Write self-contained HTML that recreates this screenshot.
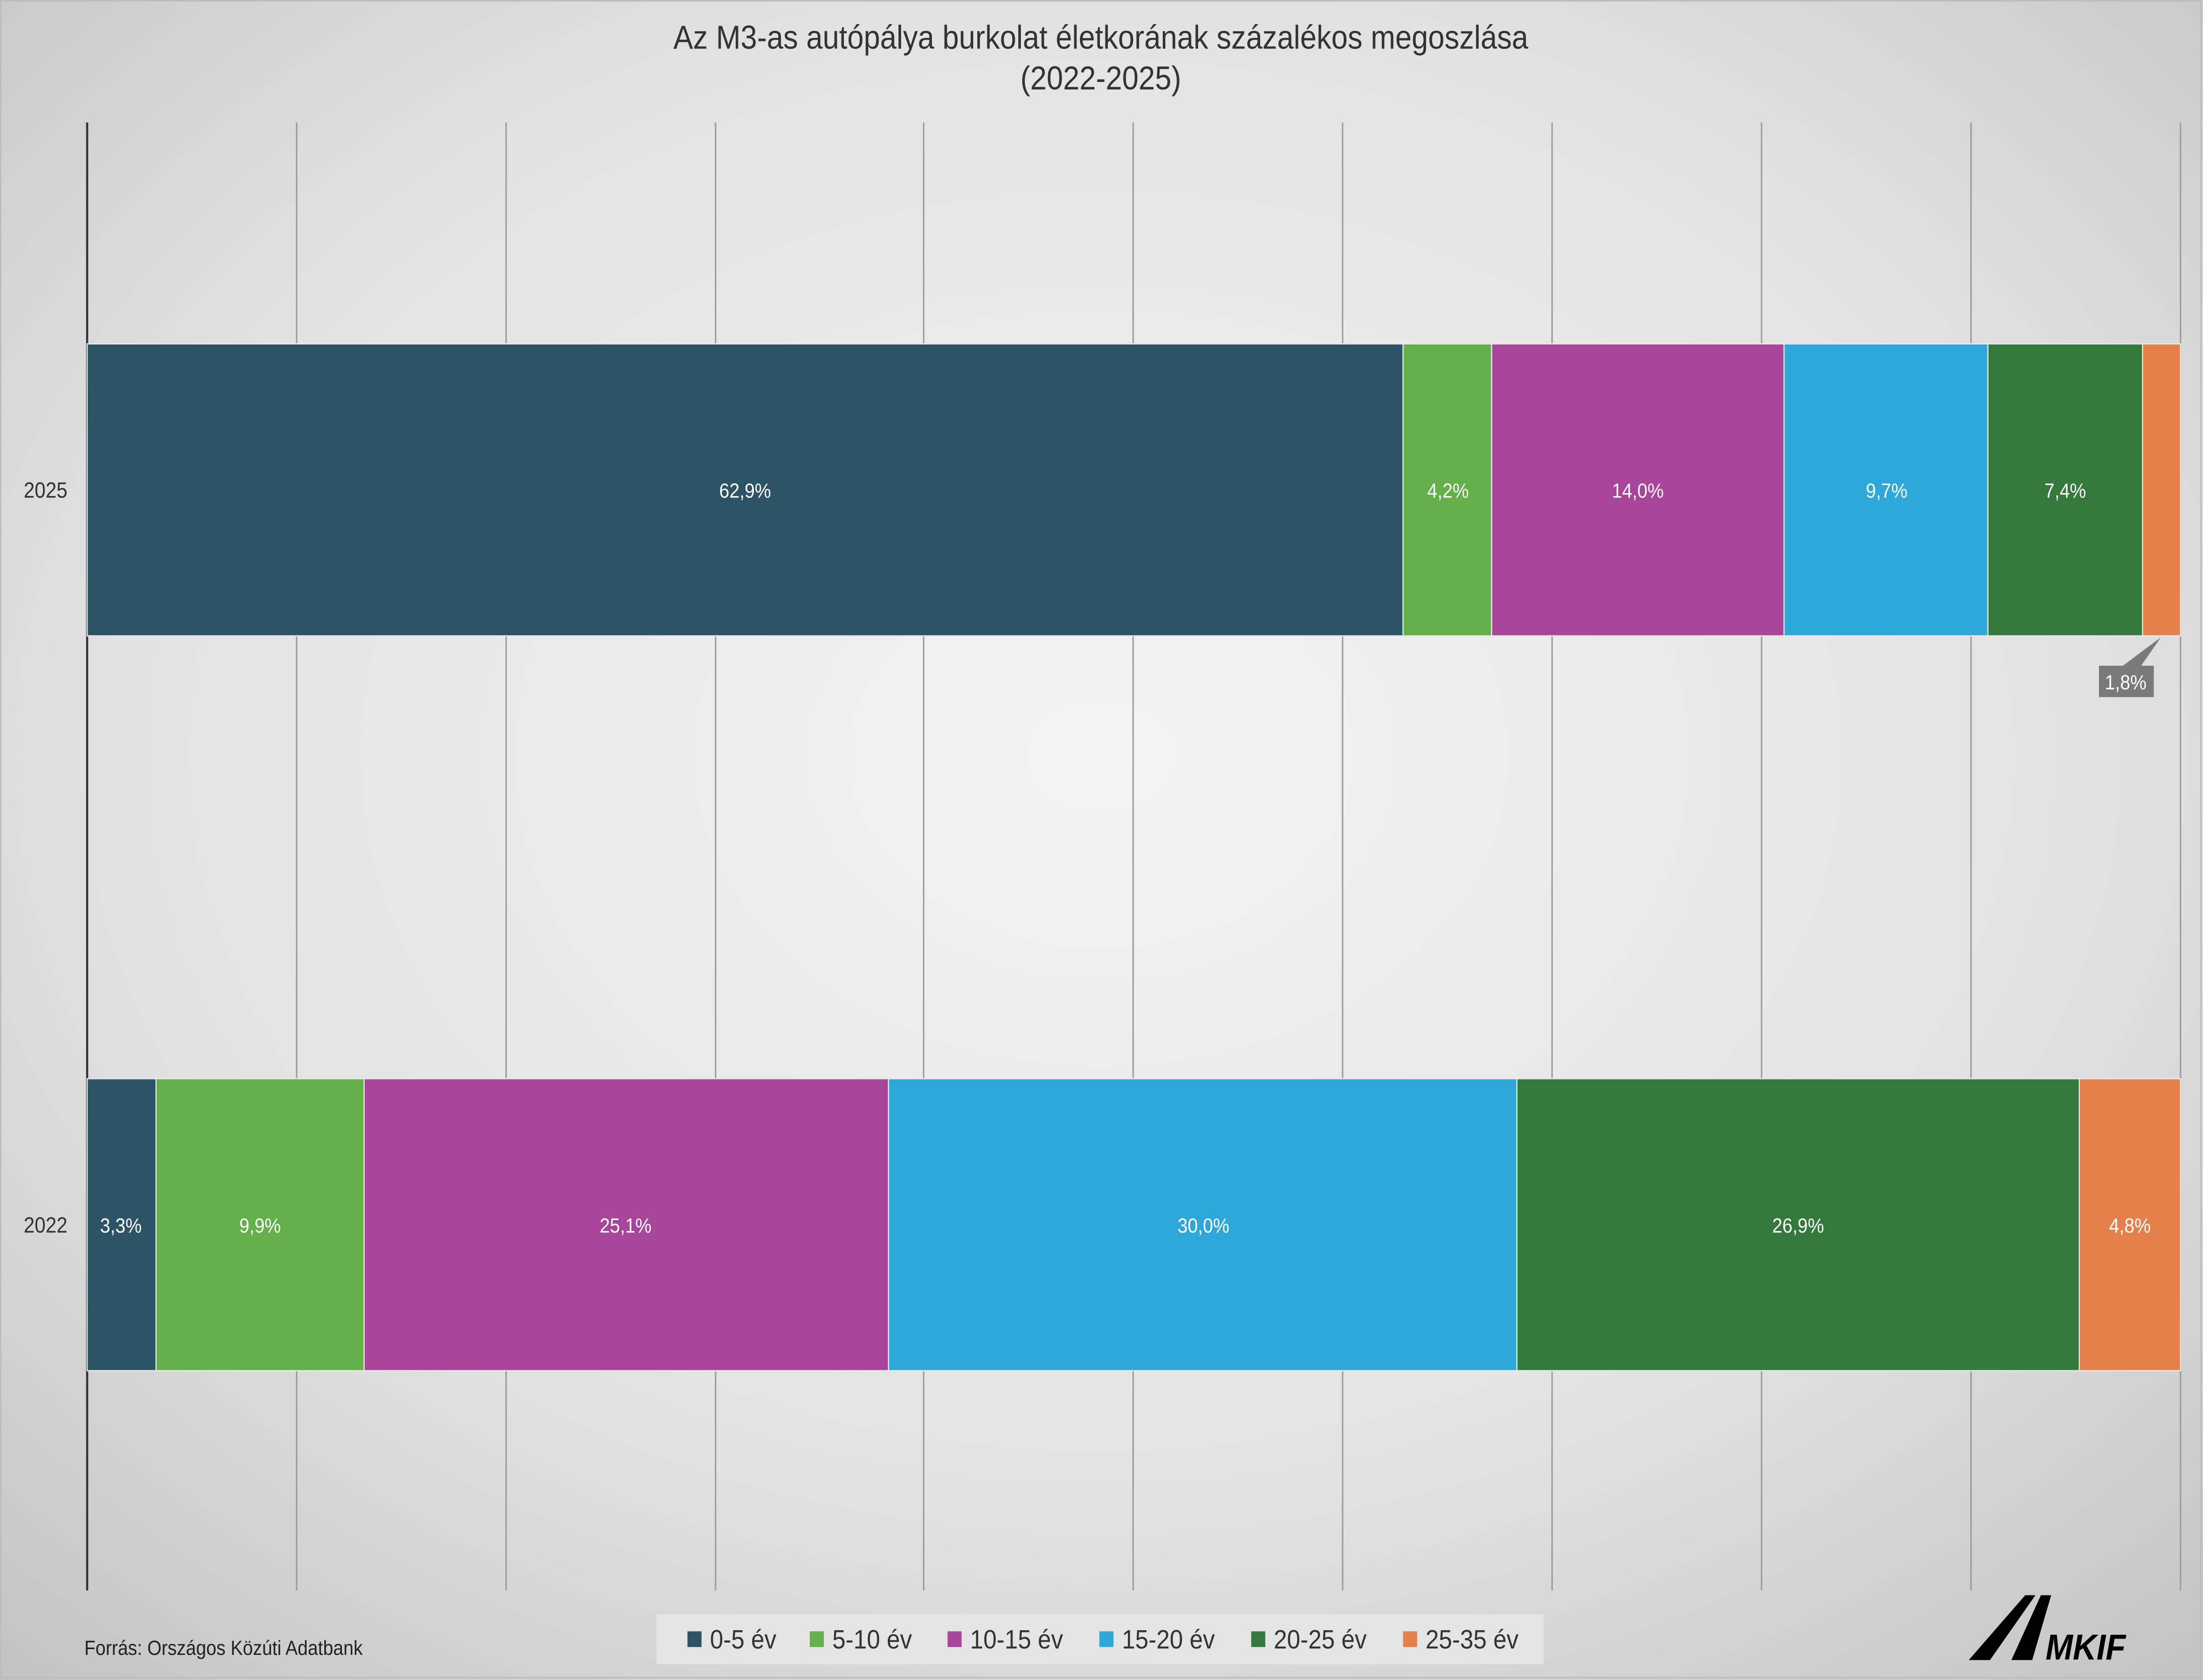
<!DOCTYPE html>
<html><head><meta charset="utf-8"><style>html,body{margin:0;padding:0;width:100vw;height:100vh;overflow:hidden}svg{display:block;width:100vw;height:100vh}</style></head>
<body>
<svg viewBox="0 0 1567 1070" preserveAspectRatio="none" xmlns="http://www.w3.org/2000/svg" font-family="Liberation Sans, sans-serif">
<defs>
<radialGradient id="bg" cx="0.5" cy="0.45" r="0.75">
<stop offset="0" stop-color="#f4f4f4"/><stop offset="0.6" stop-color="#e2e2e2"/><stop offset="1" stop-color="#c2c2c2"/>
</radialGradient>
</defs>
<rect width="1567" height="1070" fill="url(#bg)"/>
<rect x="0.5" y="0.5" width="1565" height="1068" fill="none" stroke="#bdbdbd"/>
<text x="783" y="31" text-anchor="middle" font-size="21" fill="#333">Az M3-as autópálya burkolat életkorának százalékos megoszlása</text>
<text x="783" y="57" text-anchor="middle" font-size="21" fill="#333">(2022-2025)</text>
<g stroke="#9a9a9a" stroke-width="1">
<line x1="211" y1="78" x2="211" y2="1013"/><line x1="360" y1="78" x2="360" y2="1013"/>
<line x1="509" y1="78" x2="509" y2="1013"/><line x1="657" y1="78" x2="657" y2="1013"/>
<line x1="806" y1="78" x2="806" y2="1013"/><line x1="955" y1="78" x2="955" y2="1013"/>
<line x1="1104" y1="78" x2="1104" y2="1013"/><line x1="1253" y1="78" x2="1253" y2="1013"/>
<line x1="1402" y1="78" x2="1402" y2="1013"/><line x1="1551" y1="78" x2="1551" y2="1013"/>
</g>
<line x1="62" y1="78" x2="62" y2="1013" stroke="#333" stroke-width="1.5"/>
<g stroke="#e8e8e8" stroke-width="0.8">
<rect x="62" y="219" width="936" height="186" fill="#2d5366"/>
<rect x="998" y="219" width="63" height="186" fill="#63b04a"/>
<rect x="1061" y="219" width="208" height="186" fill="#a8459b"/>
<rect x="1269" y="219" width="145" height="186" fill="#2ea8d8"/>
<rect x="1414" y="219" width="110" height="186" fill="#33793c"/>
<rect x="1524" y="219" width="27" height="186" fill="#e5804a"/>
<rect x="62" y="687" width="49" height="186" fill="#2d5366"/>
<rect x="111" y="687" width="148" height="186" fill="#63b04a"/>
<rect x="259" y="687" width="373" height="186" fill="#a8459b"/>
<rect x="632" y="687" width="447" height="186" fill="#2ea8d8"/>
<rect x="1079" y="687" width="400" height="186" fill="#33793c"/>
<rect x="1479" y="687" width="72" height="186" fill="#e5804a"/>
</g>
<g fill="#fff" font-size="13" text-anchor="middle">
<text x="530" y="317">62,9%</text><text x="1030" y="317">4,2%</text><text x="1165" y="317">14,0%</text>
<text x="1342" y="317">9,7%</text><text x="1469" y="317">7,4%</text>
<text x="86" y="785">3,3%</text><text x="185" y="785">9,9%</text><text x="445" y="785">25,1%</text>
<text x="856" y="785">30,0%</text><text x="1279" y="785">26,9%</text><text x="1515" y="785">4,8%</text>
</g>
<polygon points="1510,424 1537,406 1523,424" fill="#7a7a7a"/>
<rect x="1493" y="424" width="39" height="20" fill="#7a7a7a"/>
<text x="1512" y="439" text-anchor="middle" font-size="13" fill="#fff">1,8%</text>
<g font-size="14" fill="#333" text-anchor="end">
<text x="48" y="317">2025</text><text x="48" y="785">2022</text>
</g>
<text x="60" y="1054" font-size="13" fill="#222">Forrás: Országos Közúti Adatbank</text>
<rect x="467" y="1028" width="631" height="32" fill="#e4e4e4"/>
<g font-size="17" fill="#333">
<rect x="489" y="1039" width="10" height="10" fill="#2d5366"/><text x="505" y="1050">0-5 év</text>
<rect x="576" y="1039" width="10" height="10" fill="#63b04a"/><text x="592" y="1050">5-10 év</text>
<rect x="674" y="1039" width="10" height="10" fill="#a8459b"/><text x="690" y="1050">10-15 év</text>
<rect x="782" y="1039" width="10" height="10" fill="#2ea8d8"/><text x="798" y="1050">15-20 év</text>
<rect x="890" y="1039" width="10" height="10" fill="#33793c"/><text x="906" y="1050">20-25 év</text>
<rect x="998" y="1039" width="10" height="10" fill="#e5804a"/><text x="1014" y="1050">25-35 év</text>
</g>
<polygon points="1440.5,1016 1447.8,1016 1415.5,1057.3 1400.4,1057.3" fill="#000"/>
<polygon points="1451.7,1016 1459,1016 1445.5,1057.3 1430.7,1057.3" fill="#000"/>
<text x="1455" y="1057" font-size="23" font-weight="bold" font-style="italic" fill="#000" textLength="57" lengthAdjust="spacingAndGlyphs">MKIF</text>
</svg>
</body></html>
